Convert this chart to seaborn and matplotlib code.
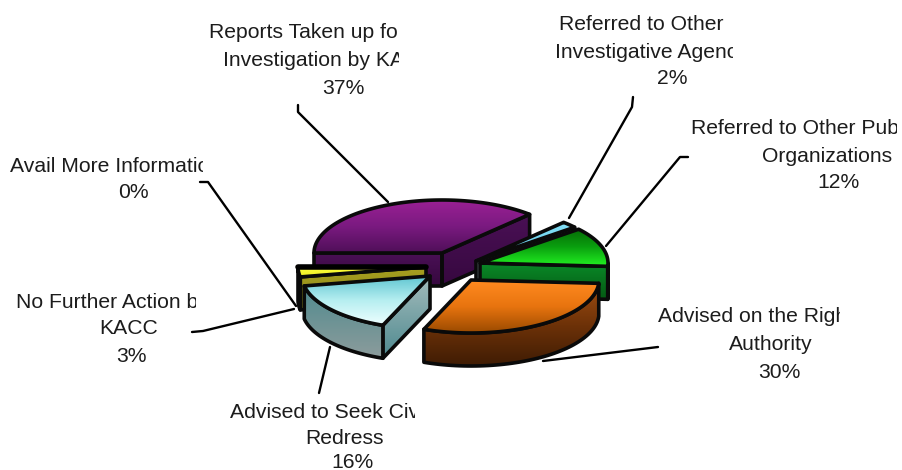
import numpy as np
import matplotlib
matplotlib.use('Agg')
import matplotlib.pyplot as plt
from matplotlib.patches import Polygon
from matplotlib.transforms import Bbox
import seaborn as sns

# values (percent)
categories = ['Reports Taken up', 'Other Agencies', 'Other Public Orgs', 'Right Authority',
              'Civil Redress', 'No Further Action', 'Avail More Info']
values = [37, 2, 12, 30, 16, 3, 0]

label_lines = [
    ['Reports Taken up for', 'Investigation by KACC', '37%'],
    ['Referred to Other', 'Investigative Agency', '2%'],
    ['Referred to Other Public', 'Organizations', '12%'],
    ['Advised on the Right', 'Authority', '30%'],
    ['Advised to Seek Civil', 'Redress', '16%'],
    ['No Further Action by', 'KACC', '3%'],
    ['Avail More Information', '0%'],
]

# layout in pixels
label_x = [[209, 223, 322], [559, 555, 657], [691, 762, 817], [658, 729, 758],
           [230, 305, 331], [16, 99, 116], [10, 118]]
label_y = [[33, 61, 88], [25, 53, 79], [129, 156, 183], [316, 345, 373],
           [412, 439, 462], [303, 329, 356], [166, 193]]
label_clip = [399, 733, 897, 840, 415, 196, 203]

leaders = [
    [(298, 105), (298, 112), (388, 202)],
    [(633, 97), (632, 107), (569, 218)],
    [(688, 157), (680, 157), (606, 246)],
    [(658, 347), (543, 361)],
    [(319, 393), (330, 347)],
    [(192, 332), (203, 331), (294, 309)],
    [(200, 182), (208, 182), (296, 306)],
]

centers = [(442, 253), (476, 261), (480, 263), (471, 280), (430, 276), (426, 267), (426, 267)]
rx, ry, depth = 128, 53, 33

top_cols = [['#9a2094', '#7a1a80', '#4f0f58'], ['#86e2f8', '#5cc4e4'], ['#066a06', '#0aa00f', '#22f022'],
            ['#ff8a20', '#e8740f', '#9a4a00'], ['#5cc4d0', '#b5eef0', '#eeffff'], ['#ffff40', '#eeee20'], ['#000000', '#000000']]
rim_cols = [['#4a1055', '#30083a'], ['#a0b8c0', '#7f98a0'], ['#0a8a28', '#055a14'],
            ['#a04e12', '#6e3208', '#3f1c04'], ['#4f8a8e', '#8c9c9c'], ['#a8a020', '#7a7a10'], ['#000000', '#000000']]
cut_cols = [['#4a1055', '#36083f'], ['#a8bcc4', '#8098a0'], ['#0a8a28', '#055a14'],
            ['#a04e12', '#3f1c04'], ['#a4bcbc', '#4f8a90'], ['#a8a020', '#8a8418'], ['#000000', '#000000']]

sns.set_theme(style='white')
plt.rcParams['font.family'] = ['Liberation Sans', 'DejaVu Sans']

fig = plt.figure(figsize=(9.03, 4.7), dpi=100)
ax = fig.add_axes([0, 0, 1, 1])
ax.set_axis_off()


def rim_point(c, ang, down=0):
    a = np.radians(ang)
    return np.column_stack([c[0] + rx * np.cos(a), c[1] - ry * np.sin(a) + down])


def shaded(pts, cols, z):
    # polygon filled with a vertical gradient
    pts = np.asarray(pts)
    cmap = sns.blend_palette(cols, as_cmap=True)
    im = ax.imshow(np.linspace(0, 1, 128).reshape(-1, 1), cmap=cmap, aspect='auto', zorder=z,
                   extent=[pts[:, 0].min(), pts[:, 0].max(), pts[:, 1].max(), pts[:, 1].min()])
    patch = Polygon(pts, closed=True, fc='none', ec='#0a0a0a', lw=2.6, joinstyle='round', zorder=z + 0.1)
    ax.add_patch(patch)
    im.set_clip_path(patch)


edges = 180 - 3.6 * np.concatenate([[0], np.cumsum(values)])
order = [0, 1, 2, 3, 5, 6, 4]   # back to front

for n, i in enumerate(order):
    a0, a1 = edges[i], edges[i + 1]
    c = centers[i]
    z = 2 + n
    if values[i] == 0:
        p = rim_point(c, np.array([a0]))[0]
        ax.plot([c[0], p[0]], [c[1], p[1]], color='black', lw=4, zorder=z)
        continue
    cc = np.array([c])
    # cut faces that look towards the viewer
    for ang, vis in [(a0, np.cos(np.radians(a0)) < 0), (a1, np.cos(np.radians(a1)) > 0)]:
        if vis:
            p = rim_point(c, np.array([ang]))
            shaded(np.vstack([cc, p, p + [0, depth], cc + [0, depth]]), cut_cols[i], z)
    # outer wall, only the front half of the rim
    hi, lo = min(a0, 0), max(a1, -180)
    if hi > lo:
        arc = np.linspace(hi, lo, 60)
        shaded(np.vstack([rim_point(c, arc), rim_point(c, arc[::-1], depth)]), rim_cols[i], z + 0.2)
    # top face
    arc = np.linspace(a0, a1, 100)
    shaded(np.vstack([cc, rim_point(c, arc)]), top_cols[i], z + 0.4)

for pts in leaders:
    xs, ys = zip(*pts)
    ax.plot(xs, ys, color='black', lw=1.7, solid_capstyle='round', zorder=1.5)

for lines, xs, ys, clip in zip(label_lines, label_x, label_y, label_clip):
    for s, x, y in zip(lines, xs, ys):
        t = ax.text(x, y, s, fontsize=15.2, color='#1c1c1c', ha='left', va='center', zorder=20)
        t.set_clip_box(Bbox([[0, 0], [clip, 470]]))
        t.set_clip_on(True)

ax.set_xlim(0, 903)
ax.set_ylim(470, 0)
fig.savefig('out.png', dpi=100, facecolor='white')
